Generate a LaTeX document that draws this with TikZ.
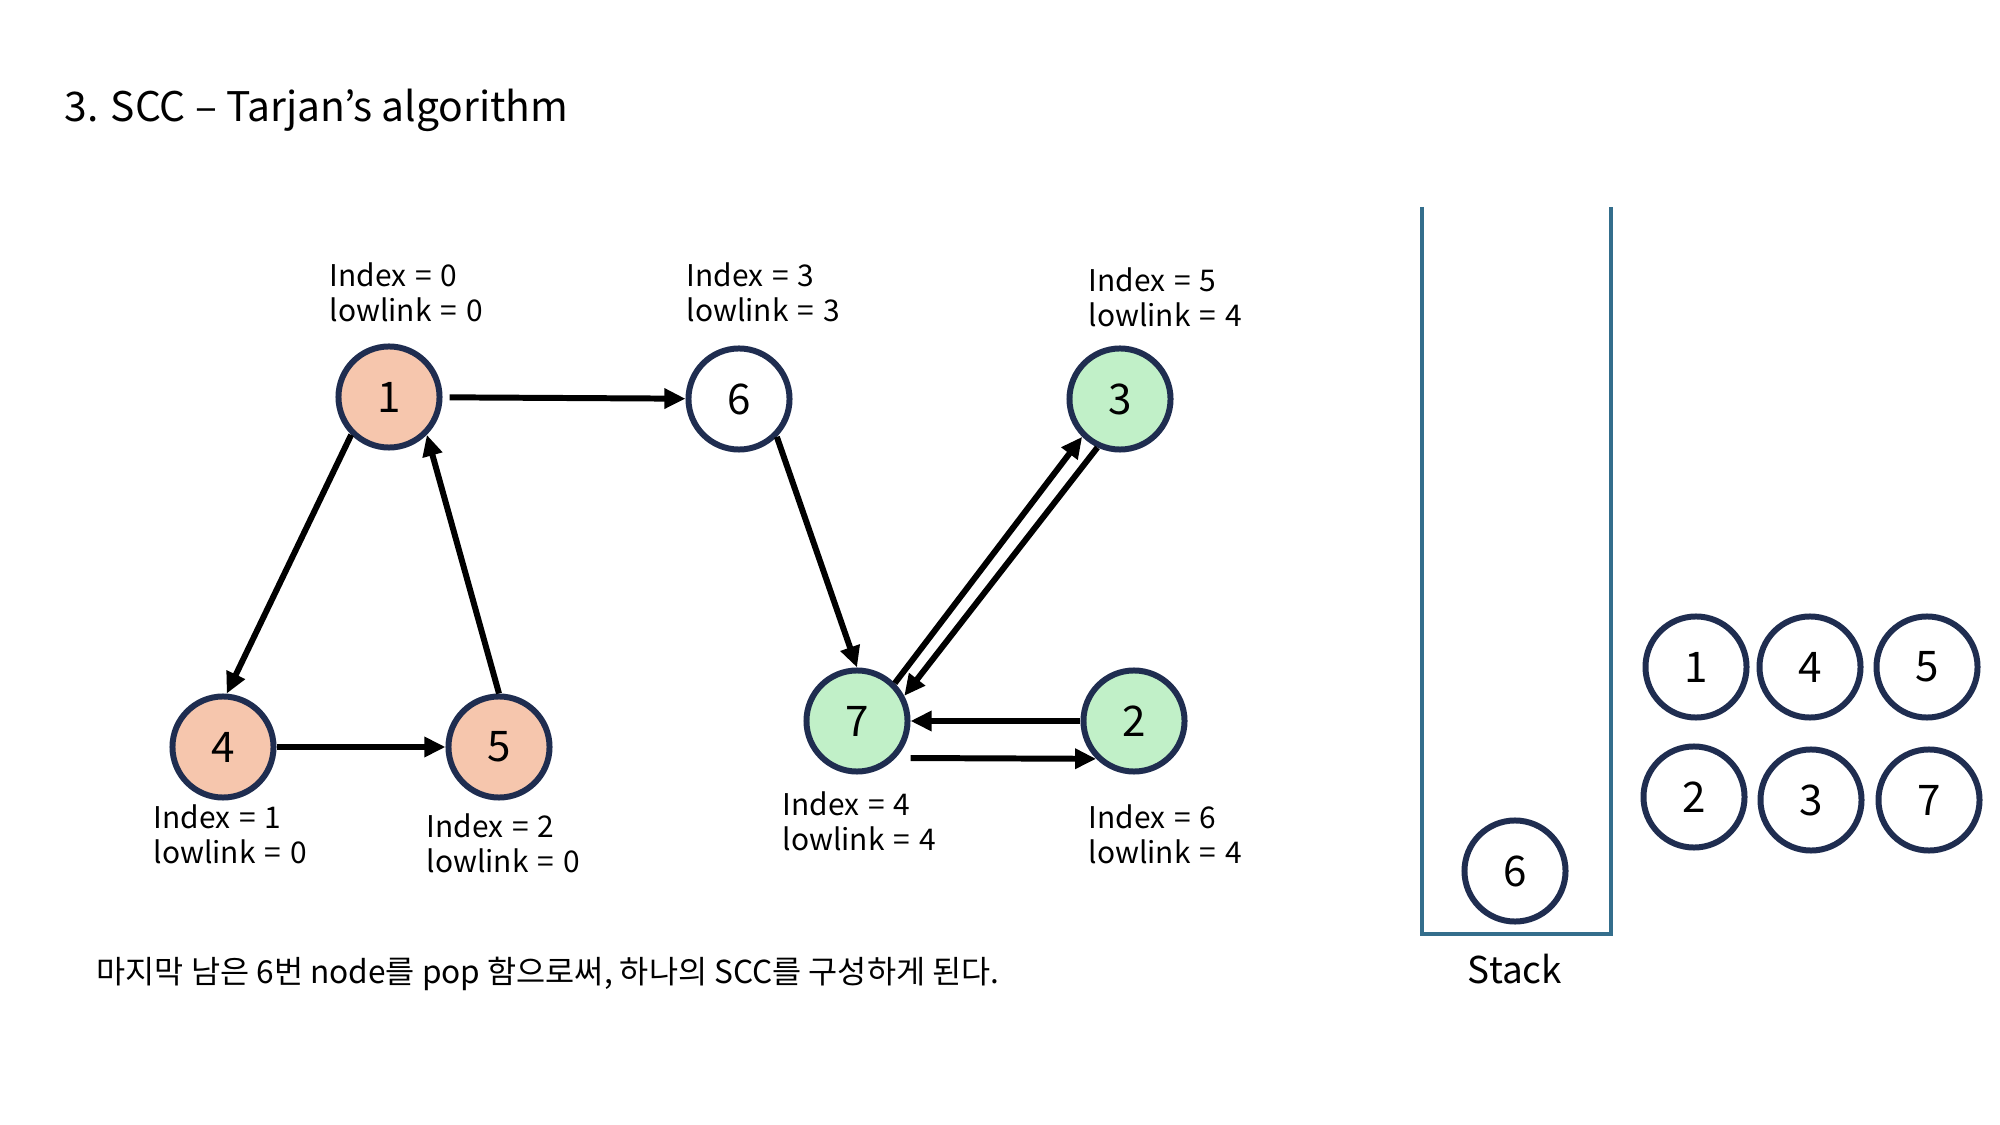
\documentclass[tikz,border=0pt]{standalone}
\usepackage{fontspec}
\setmainfont{Noto Sans CJK KR}
\usetikzlibrary{arrows.meta}

\definecolor{ringblue}{RGB}{31,45,80}
\definecolor{peach}{RGB}{246,198,173}
\definecolor{mint}{RGB}{193,240,200}
\definecolor{stackblue}{RGB}{52,110,140}

\newcommand{\eqs}{\hspace{0.3em}=\hspace{0.3em}}

\begin{document}
\begin{tikzpicture}[x=0.01cm,y=-0.01cm,
  vtx/.style={circle,draw=ringblue,line width=1.7pt,minimum size=1.01cm,inner sep=0pt,fill=white,font=\fontsize{12}{14}\selectfont},
  arr/.style={line width=1.7pt,-{Triangle[length=6pt,width=5.5pt]}},
  info/.style={anchor=west,align=left,inner sep=0pt,font=\fontsize{8.5}{10}\selectfont}]
\useasboundingbox (0,0) rectangle (2000,1125);

\path (64,110) node[anchor=west,inner sep=0pt,font=\fontsize{11.6}{14}\selectfont] (title) {3. SCC -- Tarjan's algorithm};

% graph
\path (389,397) node[vtx,fill=peach] (n1) {1};
\path (739,399) node[vtx] (n6) {6};
\path (1120,399) node[vtx,fill=mint] (n3) {3};
\path (223,747) node[vtx,fill=peach] (n4) {4};
\path (499,747) node[vtx,fill=peach] (n5) {5};
\path (857,721) node[vtx,fill=mint] (n7) {7};
\path (1134,721) node[vtx,fill=mint] (n2) {2};

\path (329,292) node[info] (i1) {Index\eqs 0\\lowlink\eqs 0};
\path (686,292) node[info] (i6) {Index\eqs 3\\lowlink\eqs 3};
\path (1088,297) node[info] (i3) {Index\eqs 5\\lowlink\eqs 4};
\path (153,834) node[info] (i4) {Index\eqs 1\\lowlink\eqs 0};
\path (426,843) node[info] (i5) {Index\eqs 2\\lowlink\eqs 0};
\path (782,821) node[info] (i7) {Index\eqs 4\\lowlink\eqs 4};
\path (1088,834) node[info] (i2) {Index\eqs 6\\lowlink\eqs 4};

\draw[arr,shorten <=2pt] (n1) -- (n6);
\draw[arr] (n1.225) -- (n4.86);
\draw[arr] (n4) -- (n5);
\draw[arr] (n5.north) -- (n1.-45);
\draw[arr] (n6.-45) -- (n7.north);
\draw[arr] (n7.45) -- (n3.225);
\draw[arr] (n3.245) -- (n7.28);
\draw[arr] (n2.west) -- (n7.east);
\draw[arr] ([yshift=-0.37cm]n7.east) -- (n2.225);

% stack
\draw[stackblue,line width=1pt] (1422,207) -- (1422,934) -- (1611,934) -- (1611,207);
\path (1515,969) node[font=\fontsize{10.5}{13}\selectfont] (stk) {Stack};
\path (1515,871) node[vtx] (s6) {6};

% popped nodes
\path (1696,667) node[vtx] (p1) {1};
\path (1810,667) node[vtx] (p4) {4};
\path (1927,667) node[vtx] (p5) {5};
\path (1694,797) node[vtx] (p2) {2};
\path (1811,800) node[vtx] (p3) {3};
\path (1929,800) node[vtx] (p7) {7};

\path (96,974) node[anchor=west,inner sep=0pt,font=\fontsize{9}{11}\selectfont] (note) {마지막 남은 6번 node를 pop 함으로써, 하나의 SCC를 구성하게 된다.};
\end{tikzpicture}
\end{document}
